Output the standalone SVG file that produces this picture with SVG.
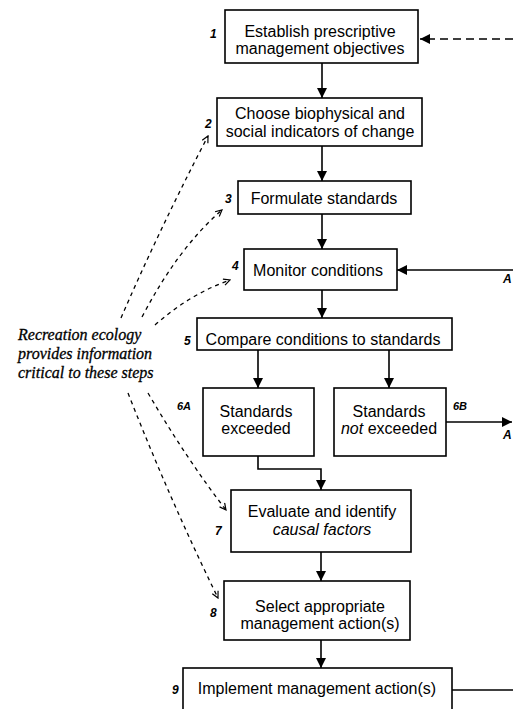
<svg xmlns="http://www.w3.org/2000/svg" width="513" height="709" viewBox="0 0 513 709">
<style>
.box{fill:#fff;stroke:#000;stroke-width:1.6}
.t{font-family:"Liberation Sans",Arial,sans-serif;font-size:16px;fill:#000;text-anchor:middle}
.n{font-family:"Liberation Sans",Arial,sans-serif;font-size:12px;font-weight:bold;font-style:italic;fill:#000}
.s{font-family:"Liberation Sans",Arial,sans-serif;font-size:11px;font-weight:bold;font-style:italic;fill:#000}
.side{font-family:"Liberation Serif","Times New Roman",serif;font-size:16px;font-style:italic;fill:#000;stroke:#000;stroke-width:0.3}
.c{fill:none;stroke:#000;stroke-width:1.6}
.d{fill:none;stroke:#000;stroke-width:1.3;stroke-dasharray:4 4}
.dt{fill:none;stroke:#000;stroke-width:1.5;stroke-dasharray:8 5}
</style>
<defs>
<marker id="ah" viewBox="0 0 10 10" refX="10" refY="5" markerWidth="10" markerHeight="10" markerUnits="userSpaceOnUse" orient="auto">
<path d="M0,0 L10,5 L0,10 Z" fill="#000"/>
</marker>
<marker id="oh" viewBox="0 0 10 10" refX="9" refY="5" markerWidth="8" markerHeight="8" markerUnits="userSpaceOnUse" orient="auto">
<path d="M1,1 L9,5 L1,9" fill="none" stroke="#000" stroke-width="1.5"/>
</marker>
</defs>
<g id="connectors">
<line class="dt" x1="513" y1="39" x2="420" y2="39" marker-end="url(#ah)"/>
<line class="c" x1="322" y1="63" x2="322" y2="98" marker-end="url(#ah)"/>
<line class="c" x1="322" y1="146" x2="322" y2="181" marker-end="url(#ah)"/>
<line class="c" x1="322" y1="214" x2="322" y2="249" marker-end="url(#ah)"/>
<line class="c" x1="513" y1="270" x2="397" y2="270" marker-end="url(#ah)"/>
<line class="c" x1="322" y1="290" x2="322" y2="318" marker-end="url(#ah)"/>
<line class="c" x1="258" y1="350" x2="258" y2="388" marker-end="url(#ah)"/>
<line class="c" x1="389" y1="350" x2="389" y2="388" marker-end="url(#ah)"/>
<line class="c" x1="446" y1="422" x2="512" y2="422" marker-end="url(#ah)"/>
<polyline class="c" points="258,456 258,469 321,469 321,490" marker-end="url(#ah)"/>
<line class="c" x1="321" y1="552" x2="321" y2="581" marker-end="url(#ah)"/>
<line class="c" x1="321" y1="640" x2="321" y2="668" marker-end="url(#ah)"/>
<line class="c" x1="452" y1="690" x2="513" y2="690"/>
<path class="d" d="M121,318 Q160,228 208,136" marker-end="url(#oh)"/>
<path class="d" d="M142,317 Q178,248 222,210" marker-end="url(#oh)"/>
<path class="d" d="M155,325 Q190,294 230,280" marker-end="url(#oh)"/>
<path class="d" d="M148,393 Q186,458 226,510" marker-end="url(#oh)"/>
<path class="d" d="M128,393 Q170,500 218,598" marker-end="url(#oh)"/>
</g>
<g id="n1">
<rect class="box" x="225" y="10" width="193" height="53"/>
<text class="t" x="320" y="37">Establish prescriptive</text>
<text class="t" x="320" y="54">management objectives</text>
<text class="n" x="210" y="38">1</text>
</g>
<g id="n2">
<rect class="box" x="217" y="98" width="205" height="48"/>
<text class="t" x="320" y="119">Choose biophysical and</text>
<text class="t" x="320" y="137">social indicators of change</text>
<text class="n" x="205" y="128">2</text>
</g>
<g id="n3">
<rect class="box" x="238" y="181" width="173" height="33"/>
<text class="t" x="324" y="204">Formulate standards</text>
<text class="n" x="225" y="203">3</text>
</g>
<g id="n4">
<rect class="box" x="244" y="249" width="153" height="41"/>
<text class="t" x="318" y="276">Monitor conditions</text>
<text class="n" x="232" y="270">4</text>
</g>
<g id="n5">
<rect class="box" x="197" y="318" width="255" height="32"/>
<text class="t" x="323" y="345">Compare conditions to standards</text>
<text class="n" x="184" y="345">5</text>
</g>
<g id="n6a">
<rect class="box" x="203" y="388" width="111" height="68"/>
<text class="t" x="256" y="417">Standards</text>
<text class="t" x="256" y="434">exceeded</text>
<text class="s" x="177" y="410">6A</text>
</g>
<g id="n6b">
<rect class="box" x="334" y="388" width="112" height="68"/>
<text class="t" x="389" y="417">Standards</text>
<text class="t" x="389" y="434"><tspan font-style="italic">not</tspan> exceeded</text>
<text class="s" x="453" y="410">6B</text>
</g>
<g id="n7">
<rect class="box" x="231" y="490" width="180" height="62"/>
<text class="t" x="322" y="517">Evaluate and identify</text>
<text class="t" x="322" y="535" font-style="italic">causal factors</text>
<text class="n" x="215" y="535">7</text>
</g>
<g id="n8">
<rect class="box" x="224" y="581" width="186" height="59"/>
<text class="t" x="320" y="612">Select appropriate</text>
<text class="t" x="320" y="629">management action(s)</text>
<text class="n" x="210" y="617">8</text>
</g>
<g id="n9">
<rect class="box" x="183" y="668" width="269" height="50"/>
<text class="t" x="317" y="694">Implement management action(s)</text>
<text class="n" x="172" y="694">9</text>
</g>
<g id="note">
<text class="side" x="18" y="340">Recreation ecology</text>
<text class="side" x="18" y="359">provides information</text>
<text class="side" x="18" y="378">critical to these steps</text>
</g>
<g id="edge-labels">
<text class="n" x="503" y="283" font-size="11">A</text>
<text class="n" x="503" y="439" font-size="11">A</text>
</g>
</svg>
